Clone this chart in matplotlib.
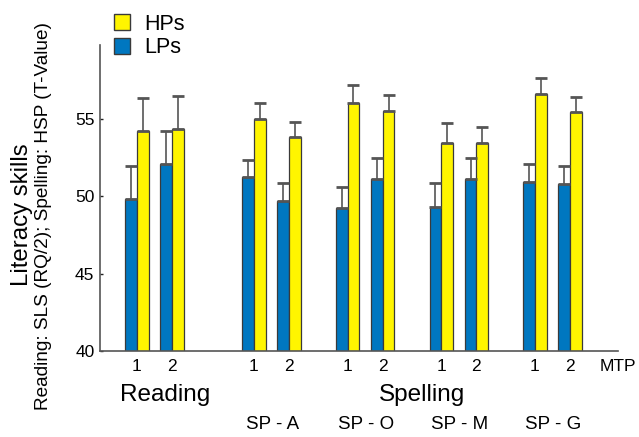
import matplotlib
matplotlib.use("Agg")
import matplotlib.pyplot as plt
import numpy as np
from matplotlib.patches import Patch

plt.rcParams['font.family'] = ['Liberation Sans', 'DejaVu Sans']

groups = ["Reading", "SP - A", "SP - O", "SP - M", "SP - G"]
mtp_labels = ["1", "2"]
lps_mean = [49.8, 52.1, 51.2, 49.7, 49.2, 51.1, 49.3, 51.1, 50.9, 50.8]
lps_err = [2.15, 2.1, 1.12, 1.14, 1.36, 1.35, 1.52, 1.35, 1.14, 1.16]
hps_mean = [54.2, 54.3, 55.0, 53.8, 56.0, 55.5, 53.4, 53.4, 56.6, 55.4]
hps_err = [2.13, 2.13, 1.03, 0.98, 1.14, 1.01, 1.34, 1.06, 1.03, 1.01]

blue = "#0077C0"
yellow = "#FFF500"
edge = "#3a3a3a"

# x positions (pair centres)
group_starts = [0, 10, 18, 26, 34]
xs = []
for g in group_starts:
    xs += [g, g + 3]
xs = np.array(xs, dtype=float)
w = 1.0

fig = plt.figure(figsize=(6.39, 4.37), dpi=100)
ax = fig.add_axes([100/639, 1-351/437, (618-100)/639, (351-45)/437])

ekw = dict(ecolor="#555555", elinewidth=1.2, capsize=4, capthick=2.0)
ax.bar(xs - w/2, lps_mean, w, color=blue, edgecolor=edge, linewidth=0.9,
       yerr=[np.zeros(len(lps_err)), lps_err], error_kw=ekw, zorder=2)
ax.bar(xs + w/2, hps_mean, w, color=yellow, edgecolor=edge, linewidth=0.9,
       yerr=[np.zeros(len(hps_err)), hps_err], error_kw=ekw, zorder=2)

ax.set_ylim(40, 59.75)
ax.set_xlim(-3.15, 41.1)
ax.set_yticks([40, 45, 50, 55])
ax.tick_params(axis='y', direction='in', length=2.5, width=1, labelsize=12.5, pad=4, colors='#222222')
ax.tick_params(axis='y', labelcolor='black')
ax.set_xticks(xs)
ax.set_xticklabels(mtp_labels * len(groups), fontsize=12.5)
ax.tick_params(axis='x', length=0, pad=6)
for s in ['top', 'right']:
    ax.spines[s].set_visible(False)
for s in ['left', 'bottom']:
    ax.spines[s].set_color('#555555')
    ax.spines[s].set_linewidth(1.2)

# MTP label
ax.text(41.1, 40 - (366.7 - 351) / 15.5, "MTP", ha='center', va='center', fontsize=12.5, clip_on=False)

# group labels
gc = [g + 1.5 for g in group_starts]
ax.text(2.43, 40 - (395 - 351) / 15.5, groups[0], ha='center', va='center', fontsize=17.5, clip_on=False)
ax.text(24.4, 40 - (395 - 351) / 15.5, "Spelling", ha='center', va='center', fontsize=17.5, clip_on=False)
for c, lab in zip(gc[1:], groups[1:]):
    ax.text(c + 0.1, 40 - (425 - 351) / 15.5, lab, ha='center', va='center', fontsize=13.5, clip_on=False)

# y labels
fig.text(22/639, 1-215/437, "Literacy skills", rotation=90, ha='center', va='center', fontsize=17.3)
fig.text(44/639, 1-216/437, "Reading: SLS (RQ/2); Spelling: HSP (T-Value)", rotation=90,
         ha='center', va='center', fontsize=13.7)

# legend
handles = [Patch(facecolor=yellow, edgecolor=edge), Patch(facecolor=blue, edgecolor=edge)]
fig.legend(handles, ["HPs", "LPs"], loc='upper left', bbox_to_anchor=(105/639, 1-5/437),
           frameon=False, fontsize=15.5, handlelength=0.75, handleheight=0.75, handletextpad=0.65,
           labelspacing=0.12, borderaxespad=0)

fig.savefig("out.png", dpi=100)
